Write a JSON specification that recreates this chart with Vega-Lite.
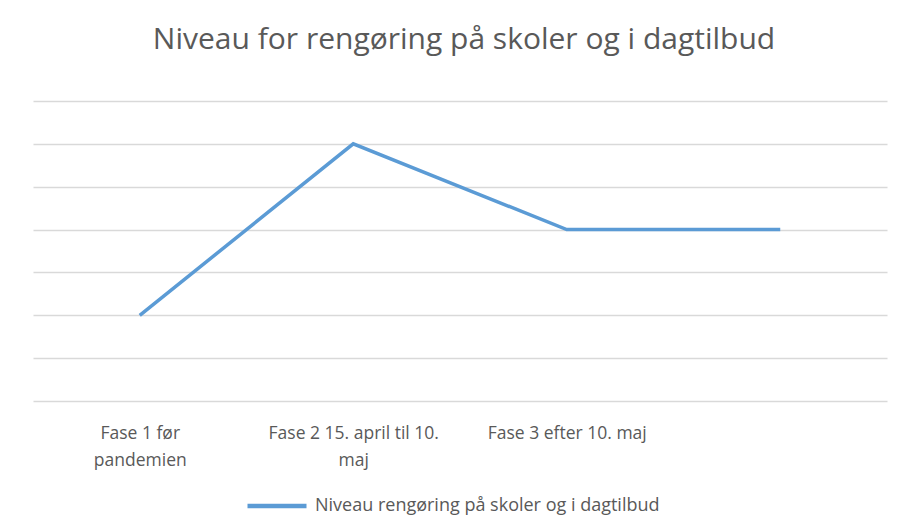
{
  "$schema": "https://vega.github.io/schema/vega-lite/v6.json",
  "width": 854,
  "height": 300,
  "autosize": {"type": "none"},
  "padding": {"left": 33, "top": 101, "right": 14, "bottom": 131},
  "background": "white",
  "title": {
    "text": "Niveau for rengøring på skoler og i dagtilbud",
    "font": "Open Sans",
    "fontSize": 30,
    "fontWeight": "normal",
    "color": "#595959",
    "anchor": "middle",
    "offset": 46,
    "dx": 4
  },
  "data": {
    "values": [
      {"fase": "Fase 1 før|pandemien", "niveau": 2, "serie": "Niveau rengøring på skoler og i dagtilbud"},
      {"fase": "Fase 2 15. april til 10.|maj", "niveau": 6, "serie": "Niveau rengøring på skoler og i dagtilbud"},
      {"fase": "Fase 3 efter 10. maj", "niveau": 4, "serie": "Niveau rengøring på skoler og i dagtilbud"},
      {"fase": " ", "niveau": 4, "serie": "Niveau rengøring på skoler og i dagtilbud"}
    ]
  },
  "mark": {"type": "line", "strokeWidth": 3.5},
  "encoding": {
    "x": {
      "field": "fase",
      "type": "nominal",
      "sort": null,
      "scale": {"type": "point", "padding": 0.5},
      "axis": {
        "title": null,
        "domain": false,
        "ticks": false,
        "grid": false,
        "labelAngle": 0,
        "labelExpr": "split(datum.label, '|')",
        "labelFont": "Open Sans",
        "labelFontSize": 17.5,
        "labelColor": "#595959",
        "labelPadding": 23,
        "labelLineHeight": 27
      }
    },
    "y": {
      "field": "niveau",
      "type": "quantitative",
      "scale": {"domain": [0, 7], "nice": false},
      "axis": {
        "title": null,
        "domain": false,
        "ticks": false,
        "labels": false,
        "values": [0, 1, 2, 3, 4, 5, 6, 7],
        "gridColor": "#d9d9d9",
        "gridWidth": 1.3
      }
    },
    "color": {
      "field": "serie",
      "type": "nominal",
      "scale": {"range": ["#5b9bd5"]},
      "legend": {
        "title": null,
        "orient": "none",
        "legendX": 212,
        "legendY": 373,
        "symbolType": "stroke",
        "symbolSize": 3481,
        "symbolStrokeWidth": 4.5,
        "labelFont": "Open Sans",
        "labelFontSize": 18,
        "labelColor": "#595959",
        "labelOffset": 6,
        "labelLimit": 500
      }
    }
  },
  "config": {
    "view": {"stroke": null}
  }
}
